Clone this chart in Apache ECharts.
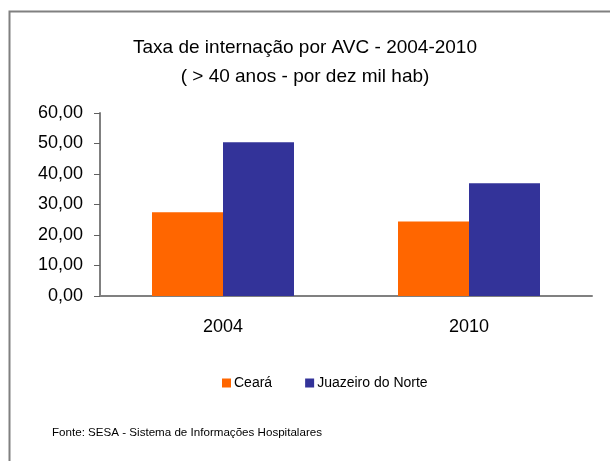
<html>
<head>
<meta charset="utf-8">
<script src="https://cdn.jsdelivr.net/npm/echarts@6/dist/echarts.min.js"></script>
<style>
html, body { margin: 0; padding: 0; background: #fff; }
#main { width: 610px; height: 461px; }
</style>
</head>
<body>
<div id="main"></div>
<script>
var years = ['2004', '2010'];
var ceara = [27.5, 24.4];
var juazeiro = [50.4, 37.0];

var font = 'Liberation Sans, Arial, sans-serif';

var option = {
    backgroundColor: '#fff',
    animation: false,
    textStyle: { fontFamily: font },
    title: {
        text: 'Taxa de internação por AVC - 2004-2010\n( > 40 anos - por dez mil hab)',
        left: 'center',
        top: 28,
        textStyle: {
            fontFamily: font,
            fontSize: 19,
            fontWeight: 'normal',
            color: '#000',
            lineHeight: 29
        }
    },
    legend: {
        data: ['Ceará', 'Juazeiro do Norte'],
        top: 371,
        left: 217,
        itemWidth: 9,
        itemHeight: 9,
        itemGap: 33,
        icon: 'rect',
        textStyle: { fontFamily: font, fontSize: 14, color: '#000', padding: [0, 0, 0, -2] }
    },
    grid: {
        left: 100,
        right: 18,
        top: 113,
        bottom: 165
    },
    xAxis: {
        type: 'category',
        data: years,
        axisLine: { lineStyle: { color: '#808080', width: 2 } },
        axisTick: { length: 6, lineStyle: { color: '#606060', width: 2 } },
        axisLabel: { fontFamily: font, fontSize: 18, color: '#000', margin: 22 }
    },
    yAxis: {
        type: 'value',
        min: 0,
        max: 60,
        interval: 10,
        splitLine: { show: false },
        axisLine: { show: true, lineStyle: { color: '#808080', width: 2 } },
        axisTick: { show: true, length: 6, lineStyle: { color: '#606060', width: 1 } },
        axisLabel: {
            fontFamily: font,
            fontSize: 18,
            color: '#000',
            margin: 17,
            formatter: function (v) { return v.toFixed(2).replace('.', ','); }
        }
    },
    series: [
        {
            name: 'Ceará',
            type: 'bar',
            data: ceara,
            barWidth: 71,
            barGap: '0%',
            itemStyle: { color: '#FF6600' }
        },
        {
            name: 'Juazeiro do Norte',
            type: 'bar',
            data: juazeiro,
            barWidth: 71,
            itemStyle: { color: '#333399' }
        }
    ],
    graphic: [
        {
            type: 'rect',
            shape: { x: 9.5, y: 11.5, width: 620, height: 470 },
            style: { fill: null, stroke: '#808080', lineWidth: 2 }
        },
        {
            type: 'text',
            left: 52,
            top: 427,
            style: {
                text: 'Fonte: SESA - Sistema de Informações Hospitalares',
                font: '11.6px Liberation Sans, Arial, sans-serif',
                fill: '#000'
            }
        }
    ]
};

var myChart = echarts.init(document.getElementById('main'));
myChart.setOption(option);
</script>
</body>
</html>
